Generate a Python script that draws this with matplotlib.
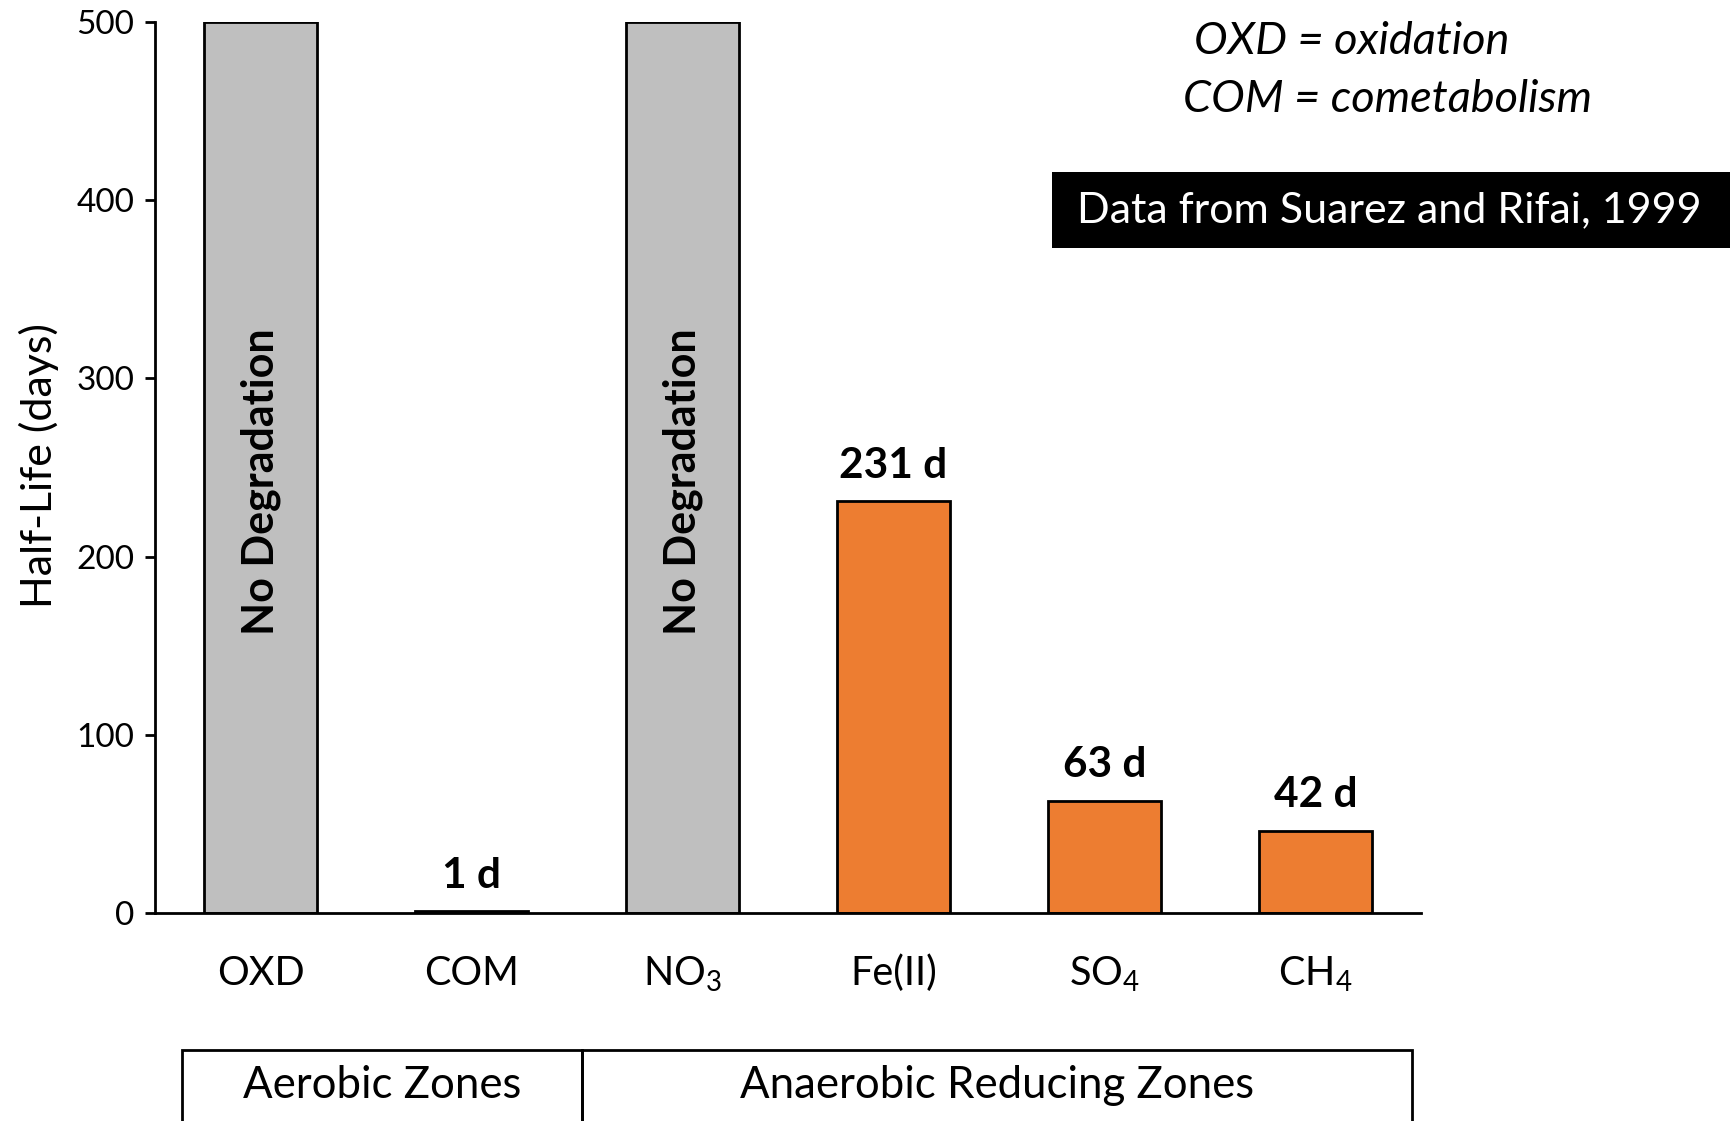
import matplotlib
matplotlib.use('Agg')
import matplotlib.pyplot as plt
from matplotlib.patches import Rectangle

plt.rcParams['font.family'] = ['Lato', 'DejaVu Sans']

# data
categories = ['OXD', 'COM', r'NO$_\mathregular{3}$', 'Fe(II)', r'SO$_\mathregular{4}$', r'CH$_\mathregular{4}$']
half_life = [500, 1, 500, 231, 63, 46]
bar_labels = ['No Degradation', '1 d', 'No Degradation', '231 d', '63 d', '42 d']
no_degradation = [True, False, True, False, False, False]
yticks = [0, 100, 200, 300, 400, 500]
zones = ['Aerobic Zones', 'Anaerobic Reducing Zones']

gray = '#BFBFBF'
orange = '#ED7D31'

W, H = 1731, 1121
fig = plt.figure(figsize=(W / 100, H / 100), dpi=100)

# axes box from pixel positions
ax = fig.add_axes([155 / W, 1 - 913 / H, (1421 - 155) / W, (913 - 22) / H])

x = list(range(len(categories)))
colors = [gray if nd else orange for nd in no_degradation]
ax.bar(x, half_life, width=0.535, color=colors, edgecolor='black', linewidth=2, zorder=2)

for xi, v, lab, nd in zip(x, half_life, bar_labels, no_degradation):
    if nd:
        ax.text(xi, 242, lab, rotation=90, ha='center', va='center',
                fontsize=31, fontweight='bold')
    else:
        ax.text(xi, v + 20, lab, ha='center', va='center',
                fontsize=30.5, fontweight='bold')

ax.set_xlim(-0.5, 5.5)
ax.set_ylim(0, 500)
ax.set_yticks(yticks)
ax.tick_params(axis='y', labelsize=24, length=7, width=2, pad=8)
ax.set_xticks(x)
ax.set_xticklabels(categories, fontsize=28.5)
ax.tick_params(axis='x', length=0, pad=30)
for s in ['top', 'right']:
    ax.spines[s].set_visible(False)
for s in ['left', 'bottom']:
    ax.spines[s].set_linewidth(2)

fig.text(39 / W, 1 - 466 / H, 'Half-Life (days)', rotation=90,
         ha='center', va='center', fontsize=31)

# definitions
fig.text(1194 / W, 1 - 42 / H, 'OXD = oxidation', ha='left', va='center',
         fontsize=32.5, style='italic')
fig.text(1183 / W, 1 - 99 / H, 'COM = cometabolism', ha='left', va='center',
         fontsize=32.5, style='italic')

# source box
fig.patches.append(Rectangle((1052 / W, 1 - 248 / H), (W - 1052) / W, 76 / H,
                             transform=fig.transFigure, facecolor='black',
                             edgecolor='none'))
fig.text(1389 / W, 1 - 210 / H, 'Data from Suarez and Rifai, 1999', ha='center',
         va='center', fontsize=31, color='white')

# zone boxes at bottom
zone_edges = [182, 582, 1412]
for i, z in enumerate(zones):
    x0, x1 = zone_edges[i], zone_edges[i + 1]
    fig.patches.append(Rectangle((x0 / W, -0.05), (x1 - x0) / W, 0.05 + (1121 - 1050) / H,
                                 transform=fig.transFigure, facecolor='none',
                                 edgecolor='black', linewidth=2))
    fig.text((x0 + x1) / 2 / W, 1 - 1086 / H, z, ha='center', va='center', fontsize=31.5)

fig.savefig('out.png', dpi=100)
